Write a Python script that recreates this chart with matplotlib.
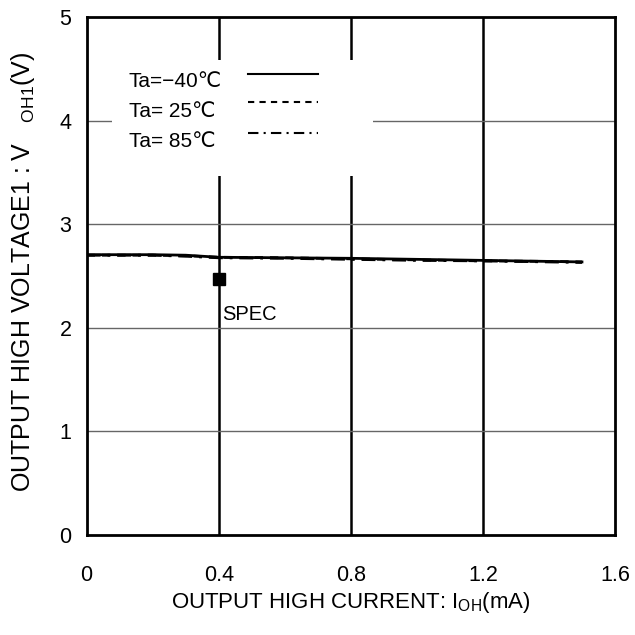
import matplotlib
matplotlib.use('Agg')
import matplotlib.pyplot as plt
from matplotlib.patches import Rectangle
import numpy as np

plt.rcParams['font.family'] = ['Liberation Sans', 'DejaVu Sans']
plt.rcParams['mathtext.fontset'] = 'custom'
plt.rcParams['mathtext.rm'] = 'Liberation Sans'
plt.rcParams['mathtext.it'] = 'Liberation Sans'

# output current (mA) and output high voltage (V)
current = [0.0, 0.2, 0.3, 0.4, 0.6, 0.8, 1.0, 1.2, 1.4, 1.5]
v_m40 = [2.705, 2.705, 2.70, 2.68, 2.675, 2.67, 2.66, 2.65, 2.64, 2.635]
v_25 = [2.70, 2.70, 2.695, 2.68, 2.675, 2.665, 2.655, 2.645, 2.64, 2.635]
v_85 = [2.70, 2.70, 2.69, 2.675, 2.67, 2.66, 2.65, 2.645, 2.635, 2.63]
labels = ['Ta=\u221240\u2103', 'Ta= 25\u2103', 'Ta= 85\u2103']

spec_x = [0.4]
spec_y = [2.47]

xticks = [0, 0.4, 0.8, 1.2, 1.6]
yticks = [0, 1, 2, 3, 4, 5]

fig = plt.figure(figsize=(6.35, 6.35), dpi=100)
ax = fig.add_axes([0.1365, 0.158, 0.832, 0.815])

for xv in xticks[1:-1]:
    ax.axvline(xv, color='black', lw=1.8, zorder=1)
for yv in yticks[1:-1]:
    ax.axhline(yv, color='#666666', lw=1.0, zorder=1)

styles = ['-', (0, (3, 2.5)), (0, (5, 2.5, 1, 2.5))]
curves = [v_m40, v_25, v_85]
for v, ls in zip(curves, styles):
    ax.plot(current, v, color='black', lw=2, ls=ls, zorder=3)

ax.plot(spec_x, spec_y, 's', color='black', ms=8, zorder=4)
ax.text(0.41, 2.07, 'SPEC', fontsize=14.5, va='baseline', ha='left')

# legend block (white box hiding the grid, text left, line sample right)
ax.add_patch(Rectangle((0.077, 3.47), 0.79, 1.115, facecolor='white',
                       edgecolor='none', zorder=2))
leg_text_y = [4.326, 4.037, 3.747]
leg_line_y = [4.449, 4.179, 3.879]
for lab, ty, ly, ls in zip(labels, leg_text_y, leg_line_y, styles):
    ax.text(0.128, ty, lab, fontsize=15, va='baseline', ha='left', zorder=5)
    ax.plot([0.49, 0.70], [ly, ly], color='black', lw=1.5, ls=ls, zorder=5)

ax.set_xlim(0, 1.6)
ax.set_ylim(0, 5)
ax.set_xticks(xticks)
ax.set_xticklabels(['0', '0.4', '0.8', '1.2', '1.6'])
ax.set_yticks(yticks)
ax.tick_params(length=0, labelsize=15.5)
ax.tick_params(axis='x', pad=22)
ax.tick_params(axis='y', pad=11)
for sp in ax.spines.values():
    sp.set_linewidth(2)
    sp.set_zorder(6)

ax.set_xlabel(r'OUTPUT HIGH CURRENT: I$_{\mathrm{OH}}$(mA)', fontsize=16)
ax.set_ylabel(r'OUTPUT HIGH VOLTAGE1 : V   $_{\mathrm{OH1}}$(V)', fontsize=18)
ax.xaxis.set_label_coords(0.5, -0.107)
ax.yaxis.set_label_coords(-0.094, 0.507)

fig.savefig('out.png', dpi=100)
